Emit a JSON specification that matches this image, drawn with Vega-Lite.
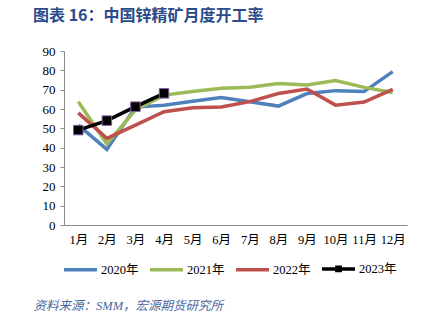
{
  "$schema": "https://vega.github.io/schema/vega-lite/v6.json",
  "width": 343,
  "height": 174,
  "autosize": {"type": "none"},
  "padding": {"left": 64, "top": 51, "right": 22, "bottom": 100},
  "background": "white",
  "title": {
    "text": "图表 16：中国锌精矿月度开工率",
    "anchor": "start",
    "frame": "group",
    "dx": -31,
    "offset": 21,
    "font": "Noto Sans CJK SC",
    "fontSize": 16,
    "fontWeight": "bold",
    "color": "#2B4C8C"
  },
  "config": {
    "view": {"stroke": null},
    "font": "Liberation Serif"
  },
  "data": {
    "values": [
      {"m": "1月", "year": "2020年", "v": 51.7},
      {"m": "2月", "year": "2020年", "v": 39.1},
      {"m": "3月", "year": "2020年", "v": 61},
      {"m": "4月", "year": "2020年", "v": 62},
      {"m": "5月", "year": "2020年", "v": 64},
      {"m": "6月", "year": "2020年", "v": 66},
      {"m": "7月", "year": "2020年", "v": 63.8},
      {"m": "8月", "year": "2020年", "v": 61.5},
      {"m": "9月", "year": "2020年", "v": 68},
      {"m": "10月", "year": "2020年", "v": 69.5},
      {"m": "11月", "year": "2020年", "v": 69},
      {"m": "12月", "year": "2020年", "v": 79.3},
      {"m": "1月", "year": "2021年", "v": 63.8},
      {"m": "2月", "year": "2021年", "v": 42},
      {"m": "3月", "year": "2021年", "v": 59.5},
      {"m": "4月", "year": "2021年", "v": 67.2},
      {"m": "5月", "year": "2021年", "v": 69},
      {"m": "6月", "year": "2021年", "v": 70.7},
      {"m": "7月", "year": "2021年", "v": 71.2},
      {"m": "8月", "year": "2021年", "v": 73.2},
      {"m": "9月", "year": "2021年", "v": 72.4},
      {"m": "10月", "year": "2021年", "v": 74.7},
      {"m": "11月", "year": "2021年", "v": 71.2},
      {"m": "12月", "year": "2021年", "v": 68.5},
      {"m": "1月", "year": "2022年", "v": 58},
      {"m": "2月", "year": "2022年", "v": 44.8},
      {"m": "3月", "year": "2022年", "v": 51.7},
      {"m": "4月", "year": "2022年", "v": 58.6},
      {"m": "5月", "year": "2022年", "v": 60.7},
      {"m": "6月", "year": "2022年", "v": 61},
      {"m": "7月", "year": "2022年", "v": 63.8},
      {"m": "8月", "year": "2022年", "v": 68},
      {"m": "9月", "year": "2022年", "v": 70.3},
      {"m": "10月", "year": "2022年", "v": 62},
      {"m": "11月", "year": "2022年", "v": 63.6},
      {"m": "12月", "year": "2022年", "v": 70.2},
      {"m": "1月", "year": "2023年", "v": 49.1},
      {"m": "2月", "year": "2023年", "v": 54},
      {"m": "3月", "year": "2023年", "v": 61.2},
      {"m": "4月", "year": "2023年", "v": 68.1}
    ]
  },
  "encoding": {
    "x": {
      "field": "m",
      "type": "ordinal",
      "sort": ["1月","2月","3月","4月","5月","6月","7月","8月","9月","10月","11月","12月"],
      "scale": {"type": "point", "padding": 0.5},
      "axis": {
        "labelAngle": 0,
        "labelFont": "Liberation Serif, Noto Sans CJK SC",
        "labelFontSize": 12.5,
        "labelColor": "#000000",
        "labelPadding": 8,
        "ticks": false,
        "domainColor": "#8C8C8C",
        "domainWidth": 1,
        "title": "资料来源：SMM，宏源期货研究所",
        "titleFont": "Liberation Serif, Noto Sans CJK SC",
        "titleFontStyle": "italic",
        "titleFontWeight": "normal",
        "titleFontSize": 12.5,
        "titleColor": "#4A68A0",
        "titleAnchor": "start",
        "titleAlign": "left",
        "titleBaseline": "middle",
        "titleX": -31,
        "titleY": 80
      }
    },
    "y": {
      "field": "v",
      "type": "quantitative",
      "scale": {"domain": [0, 90], "nice": false},
      "axis": {
        "values": [0,10,20,30,40,50,60,70,80,90],
        "title": null,
        "grid": false,
        "labelFont": "Liberation Serif",
        "labelFontSize": 13,
        "labelColor": "#000000",
        "labelPadding": 5,
        "tickSize": 4,
        "tickColor": "#8C8C8C",
        "domainColor": "#8C8C8C"
      }
    }
  },
  "layer": [
    {
      "mark": {"type": "line", "strokeWidth": 3.5, "strokeCap": "butt"},
      "encoding": {
        "color": {
          "field": "year",
          "type": "nominal",
          "scale": {
            "domain": ["2020年", "2021年", "2022年", "2023年"],
            "range": ["#4F81BD", "#9BBB59", "#C0504D", "#000000"]
          },
          "legend": {
            "orient": "none",
            "legendX": -2,
            "legendY": 199,
            "direction": "horizontal",
            "columns": 4,
            "gridAlign": "all",
            "title": null,
            "symbolType": "stroke",
            "symbolSize": 1089,
            "symbolStrokeWidth": 3.5,
            "labelFont": "Liberation Serif, Noto Sans CJK SC",
            "labelFontSize": 12.5,
            "labelColor": "#000000",
            "labelOffset": 2,
            "columnPadding": 4,
            "encode": {
              "symbols": {
                "update": {
                  "shape": {"signal": "datum.value === '2023年' ? 'M-1,0H1M-0.1,-0.1H0.1V0.1H-0.1Z' : 'stroke'"},
                  "fill": {"signal": "datum.value === '2023年' ? '#000000' : 'transparent'"}
                }
              }
            }
          }
        }
      }
    },
    {
      "transform": [{"filter": "datum.year === '2023年'"}],
      "mark": {"type": "point", "shape": "square", "filled": true, "fill": "#000000", "stroke": "#7F5F9F", "strokeWidth": 1, "size": 90, "opacity": 1}
    }
  ]
}
